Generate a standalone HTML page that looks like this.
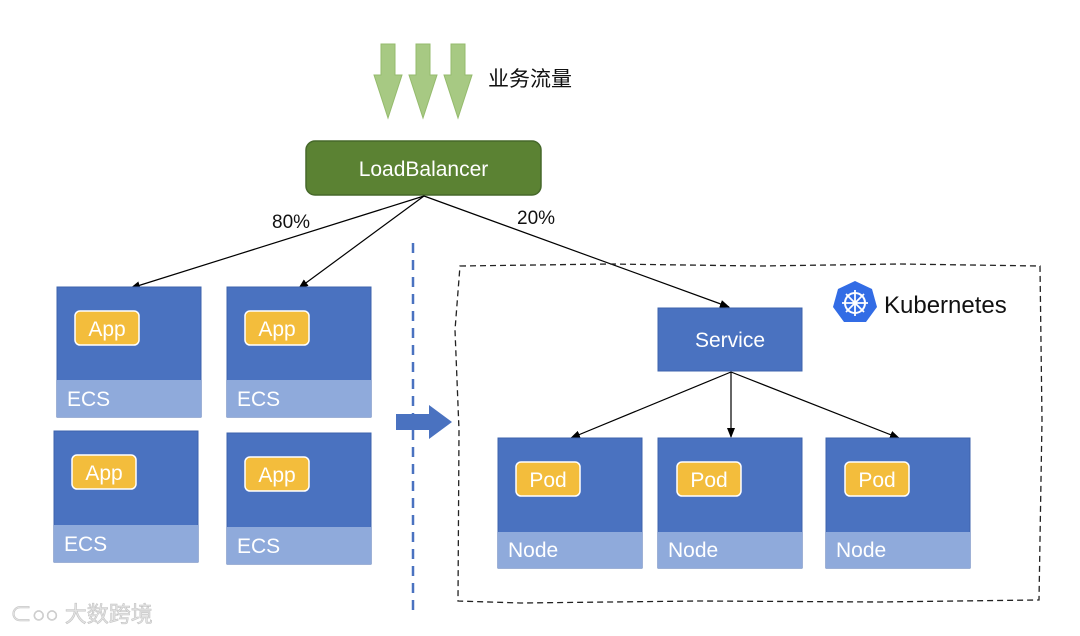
<!DOCTYPE html>
<html><head><meta charset="utf-8"><style>
html,body{margin:0;padding:0;background:#fff;}
svg{display:block;font-family:"Liberation Sans","Noto Sans CJK SC",sans-serif;}
</style></head><body>
<svg width="1080" height="636" viewBox="0 0 1080 636" xmlns="http://www.w3.org/2000/svg">
<defs>
<marker id="ah" markerWidth="10" markerHeight="8" refX="9" refY="4" orient="auto" markerUnits="userSpaceOnUse">
<path d="M0,0 L10,4 L0,8 Z" fill="#000"/></marker>
<g id="garrow"><path d="M-7,0 H7 V31 H14 L0,74 L-14,31 H-7 Z" fill="#a7c983" stroke="#95bb6d" stroke-width="1"/></g>
</defs>
<use href="#garrow" x="388" y="44"/>
<use href="#garrow" x="423" y="44"/>
<use href="#garrow" x="458" y="44"/>
<text x="488" y="86" font-size="21" fill="#111">业务流量</text>

<rect x="306" y="141" width="235" height="54" rx="9" fill="#5b8233" stroke="#46682a" stroke-width="1.5"/>
<text x="423.5" y="176" font-size="21" fill="#fff" text-anchor="middle">LoadBalancer</text>

<g stroke="#000" stroke-width="1.2" fill="none">
<line x1="424" y1="196" x2="131" y2="288" marker-end="url(#ah)"/>
<line x1="424" y1="196" x2="299" y2="288" marker-end="url(#ah)"/>
<line x1="424" y1="196" x2="729" y2="307" marker-end="url(#ah)"/>
<line x1="731" y1="372" x2="571" y2="438" marker-end="url(#ah)"/>
<line x1="731" y1="372" x2="731" y2="437" marker-end="url(#ah)"/>
<line x1="731" y1="372" x2="899" y2="438" marker-end="url(#ah)"/>
</g>
<text x="272" y="228" font-size="19" fill="#111">80%</text>
<text x="517" y="224" font-size="19" fill="#111">20%</text>

<g font-size="21" fill="#fff">
<rect x="57" y="287" width="144" height="130" fill="#4a72c0" stroke="#3d63ad"/>
<rect x="57" y="380" width="144" height="37" fill="#8faadb"/>
<rect x="75" y="311" width="64" height="34" rx="5" fill="#f3bd3c" stroke="#fff" stroke-width="1.5"/>
<text x="107" y="336" text-anchor="middle">App</text><text x="67" y="406">ECS</text>

<rect x="227" y="287" width="144" height="130" fill="#4a72c0" stroke="#3d63ad"/>
<rect x="227" y="380" width="144" height="37" fill="#8faadb"/>
<rect x="245" y="311" width="64" height="34" rx="5" fill="#f3bd3c" stroke="#fff" stroke-width="1.5"/>
<text x="277" y="336" text-anchor="middle">App</text><text x="237" y="406">ECS</text>

<rect x="54" y="431" width="144" height="131" fill="#4a72c0" stroke="#3d63ad"/>
<rect x="54" y="525" width="144" height="37" fill="#8faadb"/>
<rect x="72" y="455" width="64" height="34" rx="5" fill="#f3bd3c" stroke="#fff" stroke-width="1.5"/>
<text x="104" y="480" text-anchor="middle">App</text><text x="64" y="551">ECS</text>

<rect x="227" y="433" width="144" height="131" fill="#4a72c0" stroke="#3d63ad"/>
<rect x="227" y="527" width="144" height="37" fill="#8faadb"/>
<rect x="245" y="457" width="64" height="34" rx="5" fill="#f3bd3c" stroke="#fff" stroke-width="1.5"/>
<text x="277" y="482" text-anchor="middle">App</text><text x="237" y="553">ECS</text>

<rect x="498" y="438" width="144" height="130" fill="#4a72c0" stroke="#3d63ad"/>
<rect x="498" y="532" width="144" height="36" fill="#8faadb"/>
<rect x="516" y="462" width="64" height="34" rx="5" fill="#f3bd3c" stroke="#fff" stroke-width="1.5"/>
<text x="548" y="487" text-anchor="middle">Pod</text><text x="508" y="557">Node</text>

<rect x="658" y="438" width="144" height="130" fill="#4a72c0" stroke="#3d63ad"/>
<rect x="658" y="532" width="144" height="36" fill="#8faadb"/>
<rect x="677" y="462" width="64" height="34" rx="5" fill="#f3bd3c" stroke="#fff" stroke-width="1.5"/>
<text x="709" y="487" text-anchor="middle">Pod</text><text x="668" y="557">Node</text>

<rect x="826" y="438" width="144" height="130" fill="#4a72c0" stroke="#3d63ad"/>
<rect x="826" y="532" width="144" height="36" fill="#8faadb"/>
<rect x="845" y="462" width="64" height="34" rx="5" fill="#f3bd3c" stroke="#fff" stroke-width="1.5"/>
<text x="877" y="487" text-anchor="middle">Pod</text><text x="836" y="557">Node</text>

<rect x="658" y="308" width="144" height="63" fill="#4a72c0" stroke="#3d63ad"/>
<text x="730" y="347" text-anchor="middle">Service</text>
</g>

<line x1="413" y1="243" x2="413" y2="612" stroke="#4a72c0" stroke-width="2.5" stroke-dasharray="10,7"/>
<path d="M396,414 H429 V405 L452,422 L429,439 V430 H396 Z" fill="#4a72c0"/>

<path d="M460,266 L610,264 L760,266 L900,264 L1040,266 L1042,420 L1039,600 L880,602 L700,601 L520,603 L458,601 L459,430 L455,330 Z" fill="none" stroke="#222" stroke-width="1.3" stroke-dasharray="6,4"/>

<polygon points="855,281 872,289 877,307 866,322 844,322 833,307 838,289" fill="#326ce5"/>
<circle cx="855" cy="303" r="10" fill="none" stroke="#fff" stroke-width="2"/>
<g stroke="#fff" stroke-width="1.8"><line x1="855" y1="290" x2="855" y2="316"/><line x1="842" y1="303" x2="868" y2="303"/><line x1="846" y1="294" x2="864" y2="312"/><line x1="864" y1="294" x2="846" y2="312"/></g>
<text x="884" y="313" font-size="24" fill="#111">Kubernetes</text>

<text x="10" y="622" font-size="22" fill="#e4e4e4" stroke="#c4c4c4" stroke-width="0.6">⊂○○ 大数跨境</text>
</svg>
</body></html>
